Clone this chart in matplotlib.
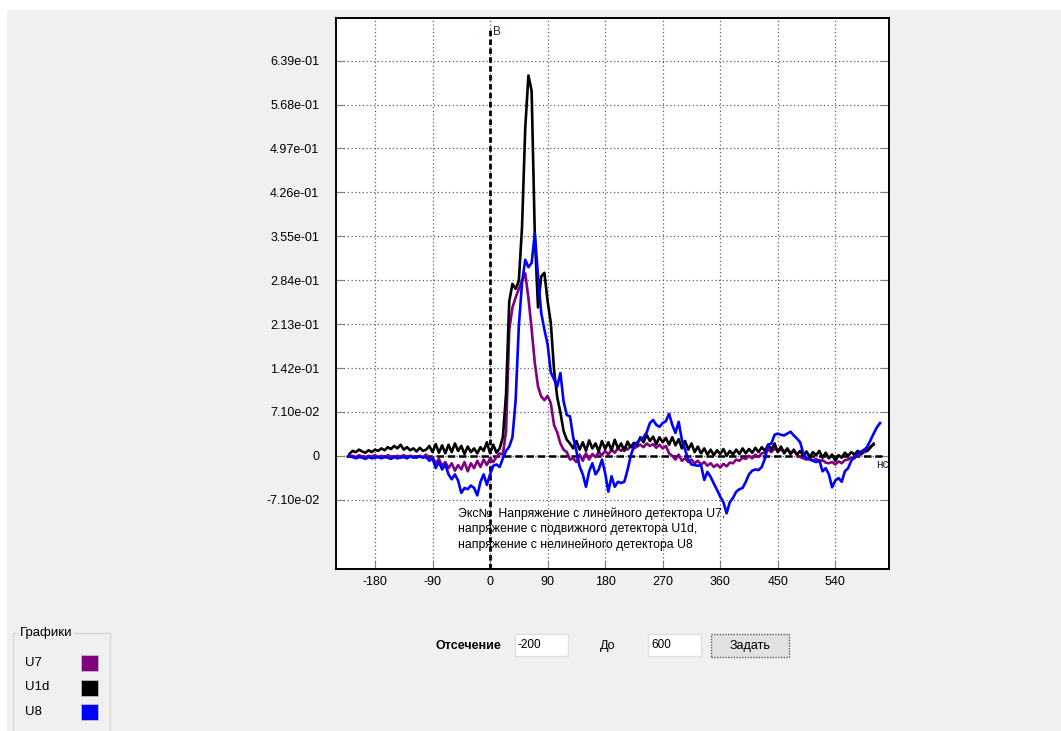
import numpy as np
import matplotlib.pyplot as plt
from matplotlib.patches import Rectangle

plt.rcParams['font.family'] = ['Liberation Sans', 'DejaVu Sans']
plt.rcParams['axes.unicode_minus'] = False

W, H = 1061, 731

t_ns = np.arange(-220, 615, 5)

# U7 - линейный детектор
u7 = [-0.001, 0.000, -0.002, 0.001, -0.001, -0.002, 0.000, -0.001, 0.001, -0.002,
      0.000, -0.002, 0.001, -0.001, -0.002, 0.000, -0.001, 0.001, -0.002, 0.000,
      -0.001, -0.003, 0.000, -0.002, 0.002, -0.006, -0.002, -0.012, -0.005, -0.016,
      -0.010, -0.020, -0.012, -0.024, -0.015, -0.022, -0.010, -0.025, -0.012, -0.020,
      -0.008, -0.018, -0.006, -0.015, -0.004, -0.010, -0.002, 0.004, 0.002, 0.040,
      0.204, 0.240, 0.256, 0.270, 0.283, 0.295, 0.255, 0.205, 0.150, 0.112,
      0.096, 0.090, 0.097, 0.085, 0.050, 0.038, 0.020, 0.010, 0.006, -0.006,
      -0.004, -0.010, 0.002, -0.008, 0.004, -0.006, 0.003, -0.002, 0.006, 0.001,
      0.008, 0.002, 0.010, 0.005, 0.012, 0.008, 0.014, 0.010, 0.016, 0.012,
      0.015, 0.018, 0.014, 0.020, 0.016, 0.019, 0.013, 0.018, 0.012, 0.016,
      0.004, 0.000, -0.006, 0.002, -0.008, -0.004, -0.010, -0.006, -0.012, -0.008,
      -0.014, -0.010, -0.016, -0.012, -0.018, -0.014, -0.019, -0.013, -0.017, -0.011,
      -0.012, -0.006, -0.008, -0.003, -0.005, 0.000, -0.004, 0.002, -0.002, 0.004,
      0.005, 0.010, 0.006, 0.012, 0.008, 0.010, 0.007, 0.011, 0.004, 0.008,
      0.002, -0.002, -0.004, -0.006, -0.003, -0.008, -0.005, -0.010, -0.007, -0.011,
      -0.012, -0.010, -0.014, -0.009, -0.012, -0.007, -0.006, -0.003, -0.004, 0.001,
      0.002, 0.006, 0.008, 0.013, 0.020, np.nan, np.nan]

# U1d - подвижный детектор
u1d = [0.003, 0.008, 0.006, 0.010, 0.007, 0.005, 0.009, 0.006, 0.010, 0.008,
       0.012, 0.009, 0.014, 0.011, 0.016, 0.012, 0.018, 0.010, 0.014, 0.009,
       0.012, 0.007, 0.013, 0.008, 0.010, 0.016, 0.006, 0.019, 0.005, 0.017,
       0.004, 0.018, 0.006, 0.020, 0.008, 0.016, 0.003, 0.015, 0.006, 0.012,
       0.004, 0.014, 0.008, 0.022, 0.004, 0.018, 0.005, 0.012, 0.030, 0.100,
       0.250, 0.278, 0.270, 0.283, 0.370, 0.530, 0.615, 0.590, 0.355, 0.240,
       0.290, 0.296, 0.250, 0.215, 0.140, 0.095, 0.070, 0.040, 0.026, 0.020,
       0.012, 0.024, 0.010, 0.022, 0.008, 0.025, 0.012, 0.020, 0.007, 0.024,
       0.011, 0.022, 0.009, 0.026, 0.012, 0.020, 0.008, 0.023, 0.014, 0.021,
       0.018, 0.030, 0.022, 0.034, 0.024, 0.031, 0.019, 0.030, 0.022, 0.029,
       0.018, 0.030, 0.017, 0.027, 0.012, 0.024, 0.010, 0.020, 0.006, 0.015,
       0.004, 0.012, 0.002, 0.010, 0.001, 0.009, 0.003, 0.011, 0.000, 0.008,
       0.002, 0.010, 0.003, 0.012, 0.004, 0.011, 0.005, 0.013, 0.006, 0.014,
       0.008, 0.018, 0.010, 0.020, 0.006, 0.015, 0.004, 0.012, 0.003, 0.010,
       0.002, 0.008, 0.000, 0.007, -0.002, 0.006, 0.001, 0.008, -0.003, 0.005,
       -0.004, 0.002, -0.008, 0.001, -0.003, 0.005, 0.000, 0.006, 0.002, 0.008,
       0.004, 0.010, 0.008, 0.015, 0.018, np.nan, np.nan]

# U8 - нелинейный детектор
u8 = [-0.001, -0.002, -0.004, -0.002, -0.003, -0.005, -0.002, -0.004, -0.003, -0.002,
      -0.004, -0.002, -0.003, -0.005, -0.002, -0.004, -0.003, -0.002, -0.004, -0.001,
      -0.003, -0.002, -0.001, -0.003, -0.002, -0.008, -0.004, -0.020, -0.010, -0.022,
      -0.014, -0.030, -0.038, -0.030, -0.040, -0.060, -0.052, -0.054, -0.048, -0.052,
      -0.064, -0.042, -0.030, -0.047, -0.030, -0.016, -0.014, -0.018, -0.004, 0.008,
      0.015, 0.030, 0.090, 0.210, 0.280, 0.317, 0.305, 0.312, 0.360, 0.290,
      0.231, 0.204, 0.180, 0.135, 0.124, 0.112, 0.134, 0.088, 0.066, 0.064,
      0.030, 0.008, -0.017, -0.030, -0.050, -0.025, -0.012, -0.030, -0.022, -0.006,
      -0.028, -0.058, -0.033, -0.050, -0.042, -0.044, -0.042, -0.023, 0.000, 0.016,
      0.022, 0.026, 0.030, 0.038, 0.053, 0.058, 0.050, 0.047, 0.053, 0.056,
      0.068, 0.050, 0.037, 0.055, 0.026, 0.010, -0.006, -0.014, -0.015, -0.016,
      -0.015, -0.039, -0.026, -0.034, -0.045, -0.055, -0.066, -0.075, -0.093, -0.075,
      -0.068, -0.058, -0.054, -0.052, -0.042, -0.030, -0.024, -0.022, -0.023, -0.018,
      -0.004, 0.018, 0.020, 0.034, 0.036, 0.034, 0.033, 0.036, 0.039, 0.033,
      0.028, 0.022, 0.004, -0.004, -0.006, -0.008, -0.010, -0.007, -0.025, -0.020,
      -0.030, -0.051, -0.040, -0.036, -0.042, -0.025, -0.020, -0.008, -0.002, 0.004,
      0.007, 0.009, 0.015, 0.025, 0.036, 0.046, 0.053]

x_ticks = [-180, -90, 0, 90, 180, 270, 360, 450, 540]
y_ticks = [-0.071, 0.0, 0.071, 0.142, 0.213, 0.284, 0.355, 0.426, 0.497, 0.568, 0.639]
y_labels = ['-7.10e-02', '0', '7.10e-02', '1.42e-01', '2.13e-01', '2.84e-01',
            '3.55e-01', '4.26e-01', '4.97e-01', '5.68e-01', '6.39e-01']

curves = [('U7', u7, '#800080'), ('U1d', u1d, '#000000'), ('U8', u8, '#0000ff')]

note = ('Экс№  Напряжение с линейного детектора U7,\n'
        'напряжение с подвижного детектора U1d,\n'
        'напряжение с нелинейного детектора U8')


def px(x, y):
    # пиксели экрана -> доли фигуры
    return x / W, 1 - y / H


fig = plt.figure(figsize=(W / 100, H / 100), dpi=100, facecolor='#f0f0f0')
# белые полосы сверху и слева
fig.add_artist(Rectangle(px(0, 10), 1, 10 / H, transform=fig.transFigure,
                         facecolor='white', edgecolor='none'))
fig.add_artist(Rectangle(px(0, H), 7 / W, 1, transform=fig.transFigure,
                         facecolor='white', edgecolor='none'))

ax = fig.add_axes([336 / W, 1 - 569 / H, (889 - 336) / W, (569 - 18) / H])
ax.set_facecolor('white')

for name, vals, col in curves:
    ax.plot(t_ns, vals, color=col, lw=1.9, zorder=3)

ax.set_xlim(-241, 624)
ax.set_ylim(-0.183, 0.708)
ax.set_xticks(x_ticks)
ax.set_yticks(y_ticks)
ax.set_yticklabels(y_labels)
ax.grid(True, linestyle=(0, (1, 2)), color='#606060', lw=0.9)
ax.set_axisbelow(True)
ax.tick_params(axis='y', direction='in', length=6, color='#808080',
               right=True, labelsize=9, pad=12)
ax.tick_params(axis='x', direction='in', length=6, color='#808080',
               labelsize=9, pad=5)
for s in ax.spines.values():
    s.set_color('black')
    s.set_linewidth(1.4)

# маркеры
ax.plot([0, 0], [-0.183, 0.694], color='black', lw=2, ls=(0, (2, 1.2)), zorder=2)
ax.plot([-225, 613], [0, 0], color='black', lw=1.8, ls=(0, (3, 1.5)), zorder=2)
ax.text(4, 0.686, 'В', fontsize=8.5, color='#1a2b4c', va='center', ha='left')
ax.text(613, -0.015, 'нс', fontsize=8.5, color='#1a2b4c', va='center', ha='center')

fig.text(*px(458, 507), note, fontsize=8.8, va='top', ha='left', linespacing=1.4)

# группа "Графики"
fig.add_artist(Rectangle(px(13, 740), 97 / W, 107 / H, transform=fig.transFigure,
                         facecolor='none', edgecolor='#d8d8d8', lw=1))
fig.text(*px(20, 633), 'Графики', fontsize=9.5, va='center', ha='left',
         bbox=dict(facecolor='#f0f0f0', edgecolor='none', pad=1))
for i, (name, vals, col) in enumerate(curves):
    yc = 663 + 24.5 * i
    fig.text(*px(25, yc), name, fontsize=9.5, va='center', ha='left')
    fig.add_artist(Rectangle(px(81, yc + 8), 17 / W, 16 / H, transform=fig.transFigure,
                             facecolor=col, edgecolor='#c0c0c0', lw=0.6))

# строка отсечения
fig.text(*px(435, 646), 'Отсечение', fontsize=9, fontweight='bold', va='center', ha='left')
for x0, txt in [(515, '-200'), (648, '600')]:
    fig.add_artist(Rectangle(px(x0, 656), 53 / W, 22 / H, transform=fig.transFigure,
                             facecolor='white', edgecolor='#e0e0e0', lw=1))
    fig.text(*px(x0 + 3, 645), txt, fontsize=8.5, va='center', ha='left')
fig.text(*px(600, 646), 'До', fontsize=9, va='center', ha='left')
fig.add_artist(Rectangle(px(711, 657), 78 / W, 23 / H, transform=fig.transFigure,
                         facecolor='#e1e1e1', edgecolor='#606060', lw=1, ls=(0, (1, 1))))
fig.text(*px(750, 646), 'Задать', fontsize=9, va='center', ha='center')

fig.savefig('out.png', dpi=100, facecolor=fig.get_facecolor())
